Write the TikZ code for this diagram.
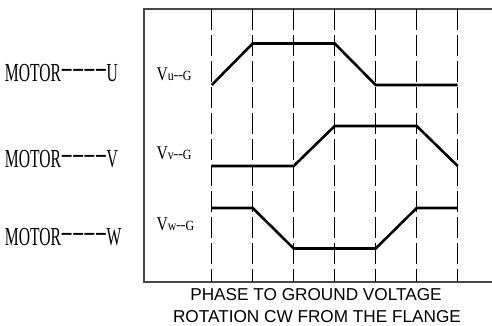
\documentclass[tikz,border=0pt]{standalone}
\usepackage{fontspec}
\usepackage{graphicx}
\newfontfamily\lblfont{Liberation Serif}
\newfontfamily\capfont{Liberation Sans}
\newcommand\mdsh{\makebox[19pt][c]{\raisebox{5pt}{\scalebox{2.45}[1]{-}}}}
\newcommand\sdsh{\makebox[5.4pt][c]{\raisebox{1pt}{\scalebox{1.3}[1]{-}}}}
\newcommand\motorlbl[1]{\scalebox{0.6}[1]{\lblfont\fontsize{26}{26}\selectfont MOTOR\mdsh\mdsh\mdsh\mdsh #1}}
\newcommand\vlbl[1]{\lblfont\scalebox{0.8}[1]{\fontsize{19.5}{19.5}\selectfont V}\scalebox{0.85}[1]{\fontsize{14}{14}\selectfont #1\sdsh\sdsh G}}
\begin{document}
\begin{tikzpicture}[x=1pt,y=-1pt,
  frame/.style={draw=black!72,line width=2pt},
  gridline/.style={draw=black,line width=1.3pt,dash pattern=on 21pt off 5pt},
  wave/.style={draw=black,line width=2.6pt,line join=miter},
  lbl/.style={anchor=base west,inner sep=0pt,outer sep=0pt},
  captext/.style={anchor=base,inner sep=0pt,font=\capfont\fontsize{17.2}{17.2}\selectfont}]
\useasboundingbox (0,0) rectangle (492,325);
% frame
\draw[frame] (492,9) -- (143.5,9) -- (143.5,282) -- (492,282);
% dashed verticals
\foreach \x in {211.7,252.7,293.7,334.7,375.7,416.7,457.7}
  \draw[gridline] (\x,9) -- (\x,282);
% waveforms
\draw[wave] (211.7,85) -- (252.7,43.5) -- (334.7,43.5) -- (375.7,85) -- (457.7,85);
\draw[wave] (211.7,166) -- (293.7,166) -- (334.7,126) -- (416.7,126) -- (457.7,166);
\draw[wave] (211.7,208) -- (252.7,208) -- (293.7,248.5) -- (375.7,248.5) -- (416.7,208) -- (457.7,208);
% motor labels
\node[lbl] (mu) at (5,81.7) {\motorlbl{U}};
\node[lbl] (mv) at (5,167) {\motorlbl{V}};
\node[lbl] (mw) at (5,245) {\motorlbl{W}};
% voltage labels
\node[lbl] (vu) at (156.5,80) {\vlbl{u}};
\node[lbl] (vv) at (156.5,159) {\vlbl{v}};
\node[lbl] (vw) at (156.5,230) {\vlbl{w}};
% caption
\node[captext] (c1) at (316,300.2) {PHASE TO GROUND VOLTAGE};
\node[captext] (c2) at (317,322) {ROTATION CW FROM THE FLANGE};
\end{tikzpicture}
\end{document}
